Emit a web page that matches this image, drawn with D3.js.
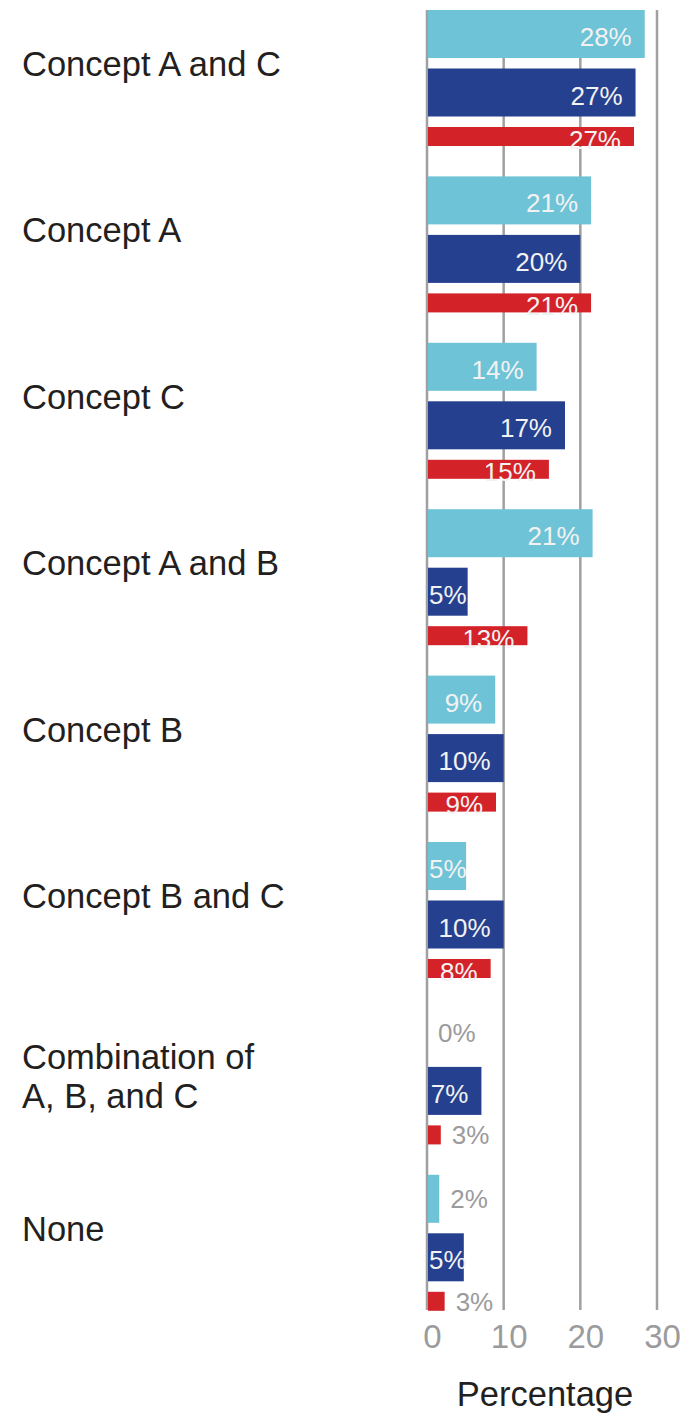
<!DOCTYPE html>
<html><head><meta charset="utf-8">
<script src="https://cdn.jsdelivr.net/npm/d3@7"></script>
<style>body{margin:0;background:#fff}svg{display:block}</style>
</head><body>
<script>
const categories = [
  ["Concept A and C"],
  ["Concept A"],
  ["Concept C"],
  ["Concept A and B"],
  ["Concept B"],
  ["Concept B and C"],
  ["Combination of", "A, B, and C"],
  ["None"]
];
const seriesNames = ["Series 1", "Series 2", "Series 3"];
// bar lengths as drawn
const series1Bars = [28.4, 21.4, 14.3, 21.6, 8.9, 5.1, 0, 1.6];
const series2Bars = [27.2, 20.0, 18.0, 5.3, 10.0, 10.0, 7.1, 4.8];
const series3Bars = [27.0, 21.4, 15.9, 13.1, 9.0, 8.3, 1.8, 2.3];
// printed labels
const series1Labels = [28, 21, 14, 21, 9, 5, 0, 2];
const series2Labels = [27, 20, 17, 5, 10, 10, 7, 5];
const series3Labels = [27, 21, 15, 13, 9, 8, 3, 3];
const xTicks = [0, 10, 20, 30];
const axisTitle = "Percentage";

const colors = ["#6EC3D7", "#24408E", "#D42229"];
const W = 687, H = 1417;
const svg = d3.select("body").append("svg").attr("width", W).attr("height", H)
  .style("font-family", "'Liberation Sans', Arial, sans-serif");

const x = d3.scaleLinear().domain([0, 30]).range([427, 657]);
const catKeys = categories.map(c => c.join(" "));
const y = d3.scaleBand().domain(catKeys).range([10, 10 + 166.4 * 8]).paddingInner(0).paddingOuter(0);
const yInner = d3.scaleBand().domain(seriesNames).range([0, 165]).paddingInner(0.1795).paddingOuter(0);

// gridlines
svg.append("g").selectAll("line").data(xTicks).join("line")
  .attr("x1", d => x(d)).attr("x2", d => x(d))
  .attr("y1", 10).attr("y2", 1310)
  .attr("stroke", "#a0a0a2").attr("stroke-width", 2.5);

// tick labels
const xAxis = d3.axisBottom(x).tickValues(xTicks).tickSize(0).tickPadding(0);
const gx = svg.append("g").attr("transform", "translate(5,1325)").call(xAxis);
gx.select(".domain").remove();
gx.selectAll("text").attr("font-size", 33).attr("fill", "#9b9b9d")
  .attr("font-family", "'Liberation Sans', Arial, sans-serif").attr("dy", "0.71em");

svg.append("text").attr("x", 545).attr("y", 1406).attr("text-anchor", "middle")
  .attr("font-size", 34.5).attr("fill", "#231f20").text(axisTitle);

// category labels
const gl = svg.append("g");
categories.forEach((lines, i) => {
  const n = lines.length;
  lines.forEach((ln, j) => gl.append("text").attr("x", 22)
    .attr("y", y(catKeys[i]) + (n === 1 ? 66 : 61 + j * 39))
    .attr("font-size", 34.5).attr("fill", "#231f20").text(ln));
});

const bars = [series1Bars, series2Bars, series3Bars];
const labels = [series1Labels, series2Labels, series3Labels];
const data = [];
catKeys.forEach((c, i) => seriesNames.forEach((s, k) => data.push({c, s, k, v: bars[k][i], l: labels[k][i]})));

const barH = k => k === 2 ? 19 : yInner.bandwidth();
const gb = svg.append("g");
gb.selectAll("rect").data(data.filter(d => d.v > 0)).join("rect")
  .attr("x", x(0) + 1)
  .attr("y", d => y(d.c) + yInner(d.s))
  .attr("width", d => x(d.v) - x(0) - 1)
  .attr("height", d => barH(d.k))
  .attr("fill", d => colors[d.k]);

// value labels
const glab = svg.append("g").attr("font-size", 26);
data.forEach(d => {
  const top = y(d.c) + yInner(d.s);
  const h = barH(d.k);
  const t = glab.append("text").text(d.l + "%");
  const tw = t.node().getComputedTextLength();
  const bw = x(d.v) - x(0);
  if (bw < 22) {
    t.attr("x", x(d.v) + 11).attr("y", top + h / 2).attr("dy", 9.5)
      .attr("text-anchor", "start").attr("fill", "#9b9b9d");
  } else {
    const xe = Math.max(x(0) + tw + 2, x(d.v) - 13);
    t.attr("x", xe).attr("y", top + h / 2).attr("dy", 12)
      .attr("text-anchor", "end").attr("fill", "#f2f2f2");
  }
});
</script>
</body></html>
